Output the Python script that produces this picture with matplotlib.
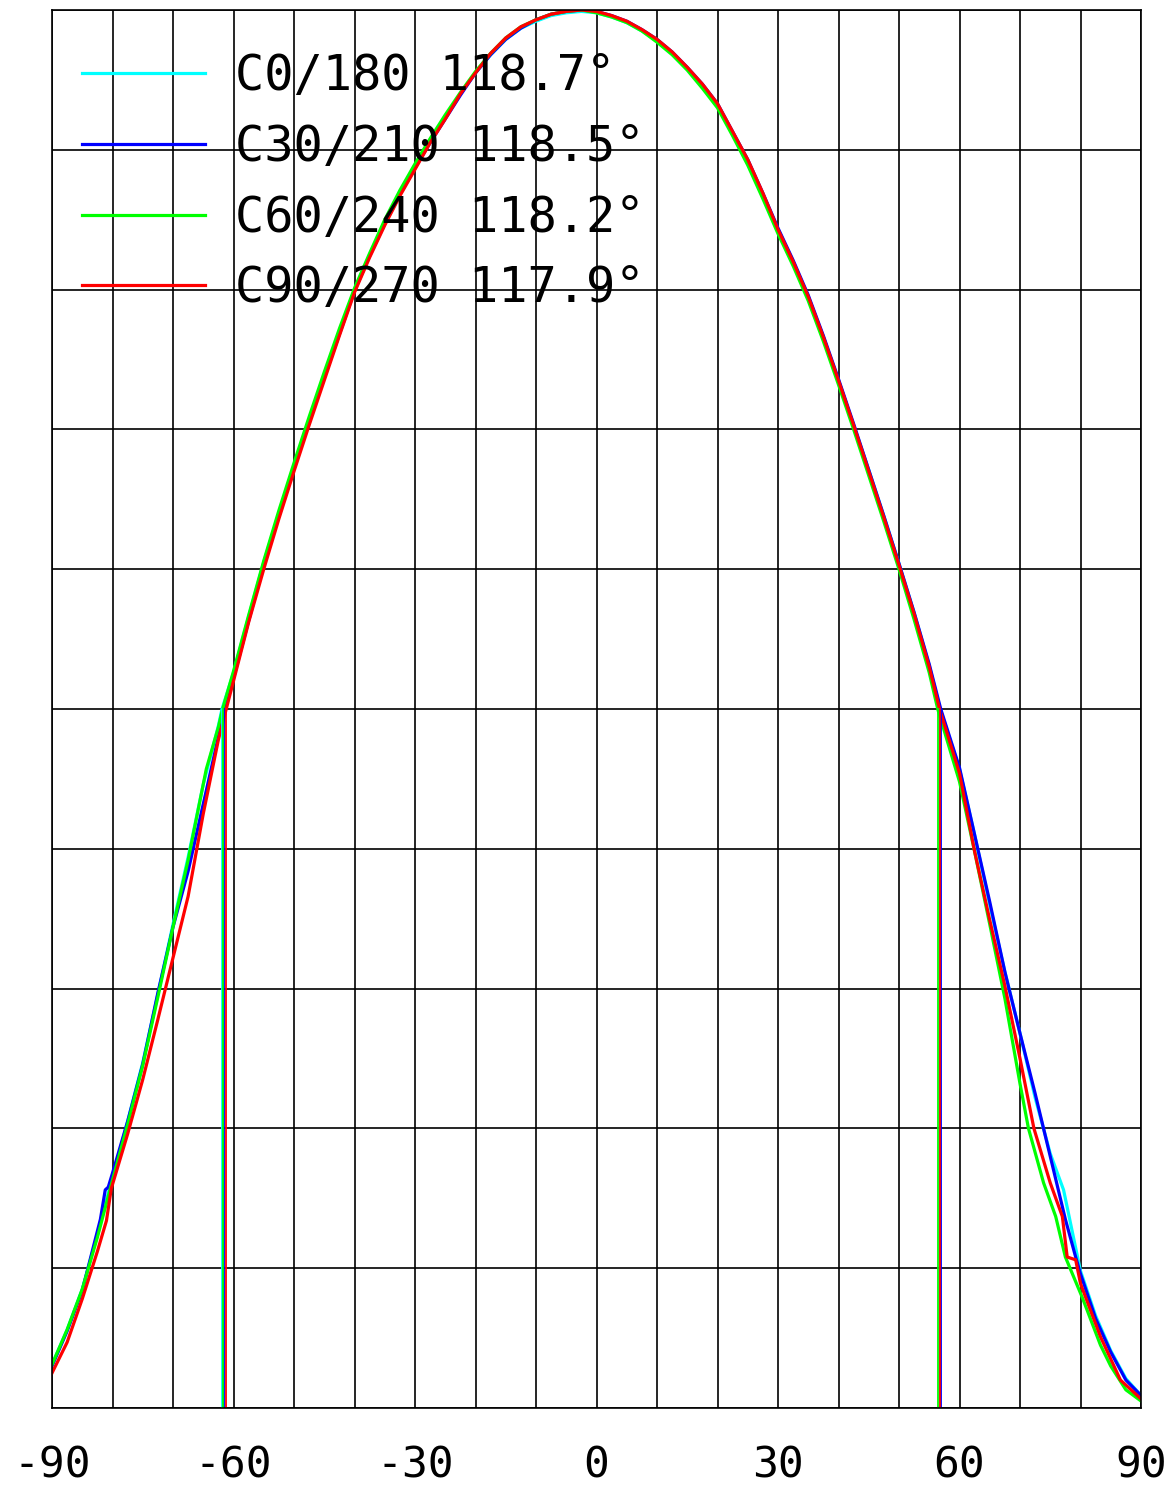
import matplotlib
matplotlib.use('Agg')
from matplotlib import pyplot

# beam angle labels
labels = ['C0/180 118.7°', 'C30/210 118.5°', 'C60/240 118.2°', 'C90/270 117.9°']
colors = ['#00ffff', '#0000ff', '#00ff00', '#ff0000']

# relative intensity curves (angle in degrees, value 0..1)
ang_c0 = [-90, -87.5, -85, -82.5, -80, -77.5, -75, -72.5, -70, -67.5, -65, -62.5, -61.9, -60, -57.5, -55, -52.5,
          -50, -47.5, -45, -42.5, -40, -37.5, -35, -32.5, -30, -27.5, -25, -22.5, -20, -17.5, -15, -12.5, -10,
          -7.5, -5, -2.5, 0, 2.5, 5, 7.5, 10, 12.5, 15, 17.5, 20, 22.5, 25, 27.5, 30, 32.5, 35, 37.5, 40, 42.5,
          45, 47.5, 50, 52.5, 55, 56.8, 60, 62.5, 65, 67.5, 70, 72.5, 75, 77.2, 80, 82.5, 85, 87.5, 90]
val_c0 = [0.031, 0.056, 0.085, 0.124, 0.165, 0.205, 0.247, 0.296, 0.346, 0.394, 0.446, 0.488, 0.5, 0.526, 0.566,
          0.605, 0.640, 0.674, 0.707, 0.739, 0.770, 0.800, 0.825, 0.848, 0.869, 0.888, 0.906, 0.923, 0.940, 0.955,
          0.968, 0.979, 0.987, 0.992, 0.996, 0.998, 0.999, 0.998, 0.995, 0.991, 0.985, 0.978, 0.969, 0.958, 0.946,
          0.932, 0.912, 0.892, 0.868, 0.843, 0.820, 0.795, 0.766, 0.735, 0.703, 0.671, 0.638, 0.604, 0.569, 0.531,
          0.5, 0.457, 0.410, 0.360, 0.312, 0.268, 0.222, 0.182, 0.156, 0.098, 0.066, 0.041, 0.021, 0.009]

ang_c30 = [-90, -87.5, -85, -82, -81.2, -80.7, -80, -77.5, -75, -72.5, -70, -67.5, -65, -62.5, -61.6, -60, -57.5,
           -55, -52.5, -50, -47.5, -45, -42.5, -40, -37.5, -35, -32.5, -30, -27.5, -25, -22.5, -20, -17.5, -15,
           -12.5, -10, -7.5, -5, -2.5, 0, 2.5, 5, 7.5, 10, 12.5, 15, 17.5, 20, 22.5, 25, 27.5, 30, 32.5, 35, 37.5,
           40, 42.5, 45, 47.5, 50, 52.5, 55, 56.9, 60, 62.5, 65, 67.5, 70, 72.5, 75, 77.5, 79.2, 80, 82.5, 85,
           87.5, 90]
val_c30 = [0.030, 0.055, 0.084, 0.135, 0.156, 0.158, 0.168, 0.205, 0.246, 0.297, 0.344, 0.384, 0.432, 0.480, 0.5,
           0.522, 0.563, 0.603, 0.638, 0.672, 0.705, 0.737, 0.768, 0.799, 0.824, 0.847, 0.868, 0.887, 0.905, 0.922,
           0.939, 0.955, 0.968, 0.979, 0.987, 0.993, 0.997, 0.999, 1.0, 0.999, 0.996, 0.992, 0.986, 0.979, 0.970,
           0.959, 0.947, 0.933, 0.913, 0.893, 0.869, 0.844, 0.821, 0.796, 0.767, 0.736, 0.704, 0.671, 0.638, 0.604,
           0.569, 0.532, 0.5, 0.458, 0.410, 0.362, 0.312, 0.268, 0.225, 0.180, 0.135, 0.108, 0.096, 0.064, 0.040,
           0.020, 0.009]

ang_c60 = [-90, -87.5, -85, -82.5, -80, -77.5, -75, -72.5, -70, -67.5, -64.5, -62.5, -61.8, -60, -57.5, -55,
           -52.5, -50, -47.5, -45, -42.5, -40, -37.5, -35, -32.5, -30, -27.5, -25, -22.5, -20, -17.5, -15, -12.5,
           -10, -7.5, -5, -2.5, 0, 2.5, 5, 7.5, 10, 12.5, 15, 17.5, 20, 22.5, 25, 27.5, 30, 32.5, 35, 37.5, 40,
           42.5, 45, 47.5, 50, 52.5, 55, 56.4, 60, 62.5, 65, 67.5, 70, 71.4, 73.9, 75.9, 77.5, 80.3, 83.3, 85,
           87.5, 90]
val_c60 = [0.031, 0.056, 0.085, 0.122, 0.163, 0.203, 0.245, 0.294, 0.344, 0.392, 0.457, 0.487, 0.5, 0.527, 0.567,
           0.606, 0.642, 0.676, 0.709, 0.741, 0.772, 0.801, 0.826, 0.850, 0.871, 0.890, 0.908, 0.925, 0.941, 0.956,
           0.969, 0.980, 0.988, 0.993, 0.997, 0.999, 1.0, 0.998, 0.995, 0.991, 0.985, 0.977, 0.968, 0.957, 0.944,
           0.930, 0.910, 0.889, 0.865, 0.840, 0.817, 0.792, 0.763, 0.732, 0.700, 0.667, 0.634, 0.600, 0.564, 0.526,
           0.5, 0.448, 0.398, 0.346, 0.293, 0.232, 0.200, 0.161, 0.137, 0.108, 0.079, 0.045, 0.030, 0.013, 0.005]

ang_c90 = [-90, -87.5, -85, -82.5, -81, -80.2, -77.5, -75, -72.5, -70, -67.5, -65, -62.5, -61.2, -60, -57.5, -55,
           -52.5, -50, -47.5, -45, -42.5, -40, -37.5, -35, -32.5, -30, -27.5, -25, -22.5, -20, -17.5, -15, -12.5,
           -10, -7.5, -5, -2.5, 0, 2.5, 5, 7.5, 10, 12.5, 15, 17.5, 20, 22.5, 25, 27.5, 30, 32.5, 35, 37.5, 40,
           42.5, 45, 47.5, 50, 52.5, 55, 56.7, 60, 62.5, 65, 67.5, 70, 72.3, 75, 77, 77.8, 79.2, 80, 83.3, 86.6, 90]
val_c90 = [0.025, 0.047, 0.078, 0.112, 0.134, 0.157, 0.196, 0.235, 0.278, 0.322, 0.366, 0.425, 0.478, 0.5, 0.520,
           0.562, 0.600, 0.636, 0.670, 0.703, 0.735, 0.767, 0.798, 0.823, 0.846, 0.867, 0.886, 0.905, 0.922, 0.940,
           0.955, 0.969, 0.980, 0.988, 0.993, 0.997, 0.999, 1.0, 0.999, 0.996, 0.992, 0.986, 0.979, 0.970, 0.959,
           0.947, 0.933, 0.913, 0.893, 0.869, 0.843, 0.820, 0.795, 0.766, 0.735, 0.703, 0.670, 0.637, 0.603, 0.568,
           0.530, 0.5, 0.454, 0.398, 0.349, 0.302, 0.250, 0.200, 0.161, 0.137, 0.108, 0.106, 0.089, 0.051, 0.020,
           0.0065]

# half-maximum angles (left, right) for each curve
half_left = [-61.9, -61.6, -61.8, -61.2]
half_right = [56.8, 56.9, 56.4, 56.7]

xticks = [-90, -60, -30, 0, 30, 60, 90]

pyplot.rcParams['axes.unicode_minus'] = False
pyplot.rcParams['font.family'] = ['DejaVu Sans Mono']

fig = pyplot.figure(figsize=(11.76, 14.86), dpi=100)
ax = fig.add_axes([52 / 1176, 1 - 1408 / 1486, 1089 / 1176, 1398 / 1486])

ax.set_xlim(-90, 90)
ax.set_ylim(0, 1)
ax.set_xticks(range(-90, 91, 10))
ax.set_xticklabels([str(t) if t in xticks else '' for t in range(-90, 91, 10)], fontsize=31)
ax.set_yticks([i / 10 for i in range(11)])
ax.set_yticklabels([])
ax.tick_params(length=0, pad=26)
ax.grid(True, color='black', linewidth=1.2)
for s in ax.spines.values():
    s.set_linewidth(1.2)

series = [(ang_c0, val_c0), (ang_c30, val_c30), (ang_c60, val_c60), (ang_c90, val_c90)]
for (a, v), c, lab in zip(series, colors, labels):
    ax.plot(a, v, '-', color=c, linewidth=2.3, label=lab)

for hl, hr, c in zip(half_left, half_right, colors):
    ax.plot([hl, hl], [0, 0.5], '-', color=c, linewidth=1.3)
    ax.plot([hr, hr], [0, 0.5], '-', color=c, linewidth=1.3)

ax.legend(loc='upper left', frameon=False, fontsize=35, handlelength=2.53, handletextpad=0.62,
          labelspacing=0.465, borderpad=0, borderaxespad=0, bbox_to_anchor=(0.0275, 0.9697))

fig.savefig('out.png', dpi=100)
